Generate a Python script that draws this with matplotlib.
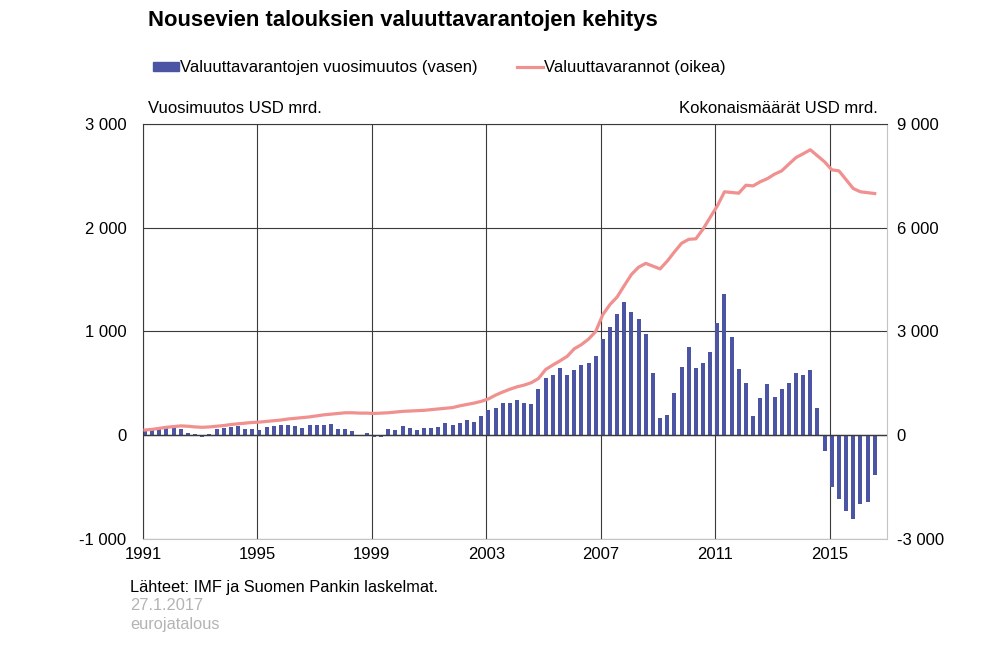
import numpy as np
import matplotlib
matplotlib.use("Agg")
import matplotlib.pyplot as plt
from matplotlib.patches import Patch
from matplotlib.lines import Line2D

plt.rcParams['font.family'] = ['Liberation Sans', 'DejaVu Sans']

# quarterly data 1991Q1 - 2016Q3, USD bn
start_year = 1991
n_quarters = 103

# annual change in reserves (left axis)
change = [
    45, 55, 62, 70,      # 1991
    77, 58, 22, 13,      # 1992
    -15, 16, 58, 70,     # 1993
    77, 90, 64, 58,      # 1994
    48, 80, 87, 100,     # 1995
    96, 87, 74, 100,     # 1996
    100, 100, 106, 64,   # 1997
    64, 42, -10, 20,     # 1998
    -15, -15, 58, 50,    # 1999
    90, 68, 50, 74,      # 2000
    70, 82, 122, 100,    # 2001
    115, 150, 130, 183,  # 2002
    240, 263, 311, 311,  # 2003
    337, 311, 304, 446,  # 2004
    551, 583, 647, 577,  # 2005
    625, 676, 699, 766,  # 2006
    926, 1048, 1170, 1282,  # 2007
    1186, 1119, 974, 599,   # 2008
    167, 199, 404, 657,     # 2009
    849, 647, 701, 807,     # 2010
    1080, 1360, 949, 637,   # 2011
    508, 190, 357, 495,     # 2012
    373, 441, 508, 598,     # 2013
    582, 630, 260, -151,    # 2014
    -502, -614, -727, -804, # 2015
    -659, -640, -386,       # 2016
]

# total reserves (right axis)
reserves = [
    150, 170, 200, 230,
    250, 270, 260, 240,
    230, 240, 260, 280,
    310, 330, 350, 370,
    380, 400, 420, 440,
    470, 490, 510, 530,
    560, 590, 610, 630,
    650, 650, 640, 640,
    630, 640, 650, 670,
    690, 700, 710, 720,
    740, 760, 780, 800,
    850, 890, 930, 980,
    1050, 1160, 1250, 1330,
    1400, 1450, 1520, 1640,
    1900, 2030, 2150, 2280,
    2500, 2620, 2780, 3000,
    3490, 3780, 4000, 4330,
    4650, 4860, 4970, 4890,
    4810, 5035, 5300, 5550,
    5665, 5680, 5960, 6300,
    6630, 7040, 7020, 7000,
    7230, 7210, 7330, 7420,
    7550, 7645, 7840, 8030,
    8140, 8255, 8080, 7905,
    7675, 7645, 7390, 7135,
    7040, 7015, 6990,
]

year_ticks = [1991, 1995, 1999, 2003, 2007, 2011, 2015]
left_ticks = [-1000, 0, 1000, 2000, 3000]
right_ticks = [-3000, 0, 3000, 6000, 9000]

bar_color = '#4b55a3'
line_color = '#f0908f'
grid_color = '#3a3a3a'

x = start_year + np.arange(n_quarters) * 0.25 + 0.07

fig = plt.figure(figsize=(10, 6.53), dpi=100)
ax = fig.add_axes([0.143, 0.1746, 0.744, 0.6355])
ax.bar(x, change, width=0.14, color=bar_color, zorder=2)
ax.axhline(0, color=grid_color, lw=1.0, zorder=3)
ax.set_xlim(1991, 2017)
ax.set_ylim(-1000, 3000)
ax.set_xticks(year_ticks)
ax.set_yticks(left_ticks)
ax.set_yticklabels([f"{v:,}".replace(",", " ") for v in left_ticks])
ax.grid(True, color=grid_color, lw=0.8)
ax.set_axisbelow(True)
ax.tick_params(length=0, labelsize=12, pad=12)
ax.tick_params(axis='x', pad=6)
for s in ['left', 'top']:
    ax.spines[s].set_color(grid_color)
    ax.spines[s].set_linewidth(0.8)
for s in ['right', 'bottom']:
    ax.spines[s].set_color('#c4c4c4')

ax2 = ax.twinx()
ax2.plot(x, reserves, color=line_color, lw=2.3, zorder=4)
ax2.set_ylim(-3000, 9000)
ax2.set_yticks(right_ticks)
ax2.set_yticklabels([f"{v:,}".replace(",", " ") for v in right_ticks])
ax2.tick_params(length=0, labelsize=12, pad=7)
for s in ax2.spines.values():
    s.set_visible(False)

fig.text(0.148, 0.968, "Nousevien talouksien valuuttavarantojen kehitys",
         fontsize=15.8, fontweight='bold', va='center')
fig.text(0.148, 0.834, "Vuosimuutos USD mrd.", fontsize=12, va='center')
fig.text(0.878, 0.834, "Kokonaismäärät USD mrd.", fontsize=12, va='center', ha='right')

handles = [Patch(color=bar_color), Line2D([0], [0], color=line_color, lw=2.3)]
labels = ["Valuuttavarantojen vuosimuutos (vasen)", "Valuuttavarannot (oikea)"]
fig.legend(handles, labels, loc='center left', bbox_to_anchor=(0.153, 0.896),
           ncol=2, frameon=False, fontsize=12, handlelength=1.56,
           handleheight=0.5, handletextpad=0.05, columnspacing=2.4,
           borderpad=0, borderaxespad=0)

fig.text(0.130, 0.101, "Lähteet: IMF ja Suomen Pankin laskelmat.", fontsize=11.8, va='center')
fig.text(0.130, 0.072, "27.1.2017", fontsize=11.8, va='center', color='#b4b4b4')
fig.text(0.130, 0.043, "eurojatalous", fontsize=11.8, va='center', color='#b4b4b4')

fig.savefig("out.png", dpi=100)
